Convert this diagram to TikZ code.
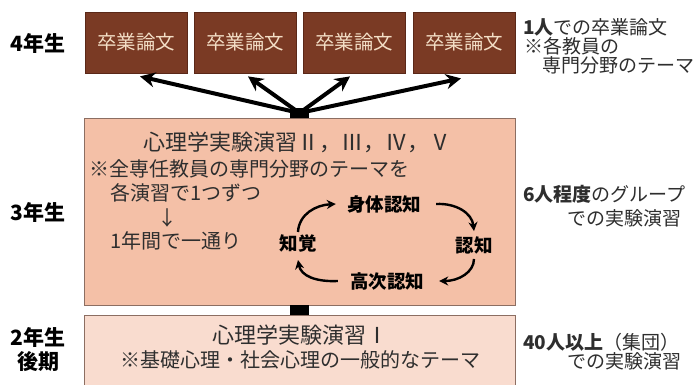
\documentclass[tikz,border=0pt]{standalone}
\usepackage{fontspec}
\setmainfont{Noto Sans CJK JP}
\usetikzlibrary{arrows.meta}
\definecolor{brownbox}{HTML}{7A3A24}
\definecolor{brownedge}{HTML}{5A2818}
\definecolor{cream}{HTML}{F3DEC6}
\definecolor{midfill}{HTML}{F4C0A7}
\definecolor{midedge}{HTML}{8C6E62}
\definecolor{lowfill}{HTML}{F9DCCF}
\definecolor{txt}{HTML}{2E2E2E}
\begin{document}
\begin{tikzpicture}[x=1pt,y=-1pt,
  thesis/.style={draw=brownedge, fill=brownbox, line width=0.8pt, minimum width=102pt, minimum height=61pt, inner sep=0pt, text=cream, font=\fontsize{19.5}{22}\selectfont},
  yearlbl/.style={font=\fontsize{21}{24}\selectfont\bfseries, text=black, inner sep=0pt},
  sidetxt/.style={font=\fontsize{19}{22}\selectfont, text=txt, inner sep=0pt},
  boxtxt/.style={font=\fontsize{20}{23}\selectfont, text=txt, inner sep=0pt},
  boxtitle/.style={font=\fontsize{22}{25}\selectfont, text=txt, inner sep=0pt},
  cyc/.style={font=\fontsize{18.5}{21}\selectfont\bfseries, text=black, inner sep=0pt},
  fan/.style={line width=4pt, -{Stealth[length=15pt,width=15pt]}},
  cycarrow/.style={line width=2.4pt, -{Stealth[length=9pt,width=9pt]}},
  junction/.style={fill=black, minimum width=19pt, minimum height=10pt, inner sep=0pt}
]
\useasboundingbox (0,0) rectangle (699,385);
\fill[white] (0,0) rectangle (699,385);

% bottom box (runs off the lower edge)
\fill[lowfill] (84,315) rectangle (515,385);
\draw[midedge, line width=0.8pt] (84,385) -- (84,315) -- (515,315) -- (515,385);

% middle box
\node[draw=midedge, fill=midfill, line width=0.8pt, minimum width=431pt, minimum height=187pt, inner sep=0pt] (mid) at (299.5,211.5) {};

% junctions
\node[junction] (j) at (299.5,113) {};
\node[junction] (j2) at (299.5,310) {};

% thesis boxes
\node[thesis] (b1) at (136,42.5) {卒業論文};
\node[thesis] (b2) at (245,42.5) {卒業論文};
\node[thesis] (b3) at (354,42.5) {卒業論文};
\node[thesis] (b4) at (464,42.5) {卒業論文};

\draw[fan] (j.center) -- ([xshift=4pt,yshift=-3pt]b1.south);
\draw[fan] (j.center) -- ([xshift=3pt,yshift=-3pt]b2.south);
\draw[fan] (j.center) -- ([xshift=-4pt,yshift=-3pt]b3.south);
\draw[fan] (j.center) -- ([xshift=-3pt,yshift=-5pt]b4.south);

% year labels
\node[yearlbl] (y4) at (38,43) {4年生};
\node[yearlbl] (y3) at (38,212) {3年生};
\node[yearlbl] (y2) at (38,337) {2年生};
\node[yearlbl] (y2b) at (38,362) {後期};

% right column
\node[sidetxt, anchor=west] (r1) at (523,27) {\textbf{1人}での卒業論文};
\node[sidetxt, anchor=west] (r2) at (524,46) {※各教員の};
\node[sidetxt, anchor=west] (r3) at (542,65) {専門分野のテーマ};
\node[sidetxt, anchor=west] (r4) at (523,194) {\textbf{6人程度}のグループ};
\node[sidetxt, anchor=east] (r5) at (682,218) {での実験演習};
\node[sidetxt, anchor=west] (r6) at (523,342) {\textbf{40人以上}（集団）};
\node[sidetxt, anchor=east] (r7) at (682,361) {での実験演習};

% middle box text
\node[boxtitle] (t1) at (297,142) {心理学実験演習Ⅱ，Ⅲ，Ⅳ，Ⅴ};
\node[boxtxt, anchor=west] (t2) at (89,169) {※全専任教員の専門分野のテーマを};
\node[boxtxt, anchor=west] (t3) at (110,193) {各演習で1つずつ};
\node[boxtxt] (t4) at (167,218) {↓};
\node[boxtxt, anchor=west] (t5) at (110,241) {1年間で一通り};

% cycle
\node[cyc] (c1) at (384,204) {身体認知};
\node[cyc] (c2) at (474,245) {認知};
\node[cyc] (c3) at (387,281) {高次認知};
\node[cyc] (c4) at (298,243) {知覚};
\draw[cycarrow] ([yshift=2pt]c4.north) .. controls (299,214) and (316,205) .. ([xshift=-11pt]c1.west);
\draw[cycarrow] ([xshift=15pt]c1.east) .. controls (456,203) and (472,213) .. ([yshift=5pt]c2.north);
\draw[cycarrow] ([yshift=-5pt]c2.south) .. controls (474,272) and (459,281) .. ([xshift=15pt]c3.east);
\draw[cycarrow] ([xshift=-12pt]c3.west) .. controls (316,282) and (301,276) .. ([yshift=-8pt]c4.south);

% bottom box text
\node[boxtitle] (u1) at (300,335) {心理学実験演習Ⅰ};
\node[boxtxt] (u2) at (300,360) {※基礎心理・社会心理の一般的なテーマ};
\end{tikzpicture}
\end{document}
